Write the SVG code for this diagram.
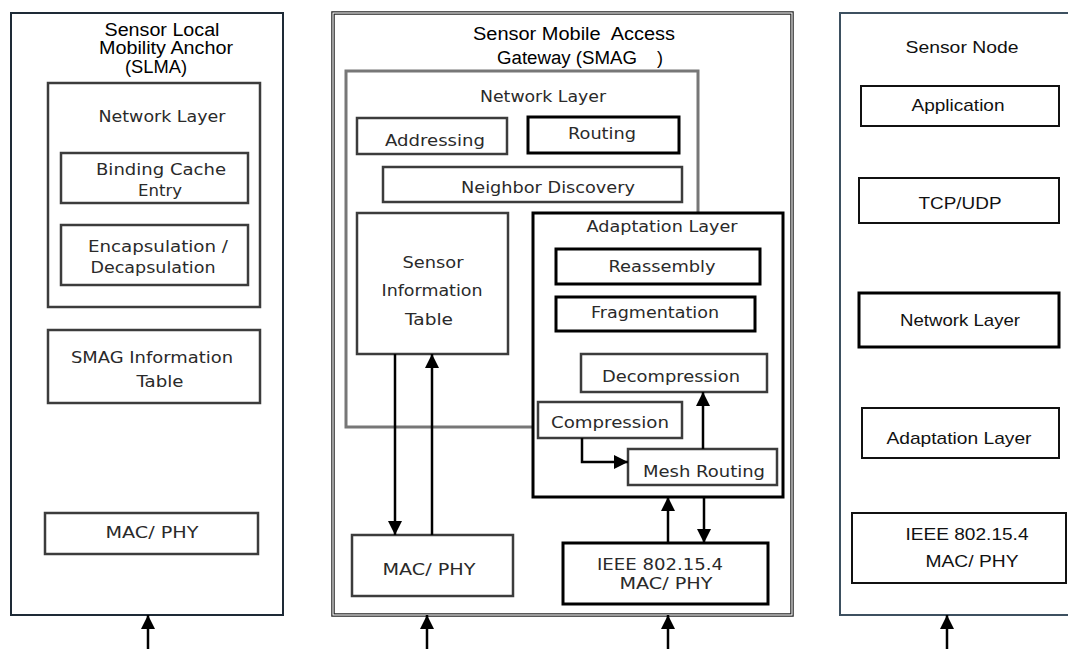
<svg xmlns="http://www.w3.org/2000/svg" width="1068" height="649" viewBox="0 0 1068 649">
<defs>
<style>
.title{font-family:"Liberation Sans",Arial,sans-serif;font-size:18px;fill:#000;text-anchor:middle}
.gt{font-family:"DejaVu Sans","Liberation Sans",sans-serif;font-size:16px;fill:#2a2a2a;text-anchor:middle}
.sn{font-family:"Liberation Sans",Arial,sans-serif;font-size:17px;fill:#111;text-anchor:middle}
.thin{fill:#fff;stroke:#3c3c3c;stroke-width:2.5}
.thick{fill:#fff;stroke:#000;stroke-width:3}
.snb{fill:#fff;stroke:#111;stroke-width:2}
.ln{fill:none;stroke:#000;stroke-width:2.5}
</style>
<marker id="ah" viewBox="0 0 14 14" refX="14" refY="7" markerWidth="14" markerHeight="14" markerUnits="userSpaceOnUse" orient="auto"><path d="M0,0 L14,7 L0,14 z" fill="#000"/></marker>
</defs>
<rect width="1068" height="649" fill="#fff"/>

<g id="slma">
<rect x="11" y="13" width="272" height="602" fill="#fff" stroke="#1e2a36" stroke-width="2"/>
<text class="title" x="162" y="36" textLength="115" lengthAdjust="spacingAndGlyphs">Sensor Local</text>
<text class="title" x="166" y="54" textLength="134" lengthAdjust="spacingAndGlyphs">Mobility Anchor</text>
<text class="title" x="156" y="73" textLength="62" lengthAdjust="spacingAndGlyphs">(SLMA)</text>
</g>
<g id="slma-network">
<rect class="thin" x="48" y="83" width="212" height="224"/>
<text class="gt" x="162" y="122" textLength="127" lengthAdjust="spacingAndGlyphs">Network Layer</text>
</g>
<g id="slma-binding">
<rect class="thin" x="61" y="153" width="187" height="50"/>
<text class="gt" x="161" y="175" textLength="130" lengthAdjust="spacingAndGlyphs">Binding Cache</text>
<text class="gt" x="160" y="196" textLength="44" lengthAdjust="spacingAndGlyphs">Entry</text>
</g>
<g id="slma-encap">
<rect class="thin" x="61" y="225" width="187" height="60"/>
<text class="gt" x="158" y="252" textLength="140" lengthAdjust="spacingAndGlyphs">Encapsulation /</text>
<text class="gt" x="153" y="273" textLength="125" lengthAdjust="spacingAndGlyphs">Decapsulation</text>
</g>
<g id="slma-smaginfo">
<rect class="thin" x="48" y="330" width="212" height="73"/>
<text class="gt" x="152" y="363" textLength="162" lengthAdjust="spacingAndGlyphs">SMAG Information</text>
<text class="gt" x="160" y="387" textLength="47" lengthAdjust="spacingAndGlyphs">Table</text>
</g>
<g id="slma-macphy">
<rect class="thin" x="45" y="513" width="213" height="41"/>
<text class="gt" x="152" y="538" textLength="93" lengthAdjust="spacingAndGlyphs">MAC/ PHY</text>
</g>

<g id="smag">
<rect x="333" y="13" width="459" height="602" fill="#fff" stroke="#222" stroke-width="3.5"/>
<rect x="333" y="13" width="459" height="602" fill="none" stroke="#fff" stroke-width="1.1"/>
<text class="title" x="574" y="40" textLength="202" lengthAdjust="spacingAndGlyphs" xml:space="preserve">Sensor Mobile  Access</text>
<text class="title" x="497" y="64" textLength="140" lengthAdjust="spacingAndGlyphs" style="text-anchor:start">Gateway (SMAG</text>
<text class="title" x="660" y="64">)</text>
</g>
<g id="smag-network">
<rect x="346" y="71" width="352" height="356" fill="none" stroke="#777" stroke-width="3"/>
<text class="gt" x="543" y="102" textLength="126" lengthAdjust="spacingAndGlyphs">Network Layer</text>
</g>
<g id="smag-addressing">
<rect class="thin" x="357" y="118" width="150" height="36"/>
<text class="gt" x="435" y="146" textLength="100" lengthAdjust="spacingAndGlyphs">Addressing</text>
</g>
<g id="smag-routing">
<rect class="thick" x="528" y="117" width="151" height="36"/>
<text class="gt" x="602" y="139" textLength="68" lengthAdjust="spacingAndGlyphs">Routing</text>
</g>
<g id="smag-nd">
<rect class="thin" x="383" y="167" width="299" height="35"/>
<text class="gt" x="548" y="193" textLength="174" lengthAdjust="spacingAndGlyphs">Neighbor Discovery</text>
</g>
<g id="smag-sit">
<rect class="thin" x="357" y="213" width="151" height="141"/>
<text class="gt" x="433" y="268" textLength="61" lengthAdjust="spacingAndGlyphs">Sensor</text>
<text class="gt" x="432" y="296" textLength="101" lengthAdjust="spacingAndGlyphs">Information</text>
<text class="gt" x="429" y="325" textLength="48" lengthAdjust="spacingAndGlyphs">Table</text>
</g>
<g id="smag-adaptation">
<rect class="thick" x="533" y="213" width="250" height="284"/>
<text class="gt" x="662" y="232" textLength="151" lengthAdjust="spacingAndGlyphs">Adaptation Layer</text>
</g>
<g id="smag-reassembly">
<rect class="thick" x="556" y="249" width="204" height="35"/>
<text class="gt" x="662" y="272" textLength="107" lengthAdjust="spacingAndGlyphs">Reassembly</text>
</g>
<g id="smag-fragmentation">
<rect class="thick" x="556" y="297" width="199" height="34"/>
<text class="gt" x="655" y="318" textLength="128" lengthAdjust="spacingAndGlyphs">Fragmentation</text>
</g>
<g id="smag-decompression">
<rect class="thin" x="581" y="354" width="186" height="38"/>
<text class="gt" x="671" y="382" textLength="138" lengthAdjust="spacingAndGlyphs">Decompression</text>
</g>
<g id="smag-compression">
<rect class="thin" x="538" y="402" width="144" height="36"/>
<text class="gt" x="610" y="428" textLength="118" lengthAdjust="spacingAndGlyphs">Compression</text>
</g>
<g id="smag-mesh">
<rect class="thin" x="628" y="449" width="149" height="36"/>
<text class="gt" x="704" y="477" textLength="122" lengthAdjust="spacingAndGlyphs">Mesh Routing</text>
</g>
<g id="smag-macphy">
<rect class="thin" x="352" y="535" width="161" height="61"/>
<text class="gt" x="429" y="575" textLength="93" lengthAdjust="spacingAndGlyphs">MAC/ PHY</text>
</g>
<g id="smag-ieee">
<rect class="thick" x="563" y="543" width="205" height="61"/>
<text class="gt" x="660" y="570" textLength="126" lengthAdjust="spacingAndGlyphs">IEEE 802.15.4</text>
<text class="gt" x="666" y="589" textLength="93" lengthAdjust="spacingAndGlyphs">MAC/ PHY</text>
</g>

<g id="sensor-node">
<path d="M1068,13 L840,13 L840,615 L1068,615" fill="#fff" stroke="#3d5060" stroke-width="2"/>
<text class="sn" x="962" y="53" textLength="113" lengthAdjust="spacingAndGlyphs">Sensor Node</text>
</g>
<g id="sn-application">
<rect class="snb" x="861" y="86" width="198" height="40"/>
<text class="sn" x="958" y="111" textLength="93" lengthAdjust="spacingAndGlyphs">Application</text>
</g>
<g id="sn-tcpudp">
<rect class="snb" x="859" y="178" width="200" height="45"/>
<text class="sn" x="960" y="209" textLength="83" lengthAdjust="spacingAndGlyphs">TCP/UDP</text>
</g>
<g id="sn-network">
<rect class="thick" x="859" y="293" width="200" height="54"/>
<text class="sn" x="960" y="326" textLength="120" lengthAdjust="spacingAndGlyphs">Network Layer</text>
</g>
<g id="sn-adaptation">
<rect class="snb" x="862" y="408" width="197" height="50"/>
<text class="sn" x="959" y="444" textLength="145" lengthAdjust="spacingAndGlyphs">Adaptation Layer</text>
</g>
<g id="sn-ieee">
<rect class="snb" x="852" y="513" width="214" height="70" stroke="#333"/>
<text class="sn" x="967" y="540" textLength="123" lengthAdjust="spacingAndGlyphs">IEEE 802.15.4</text>
<text class="sn" x="972" y="567" textLength="93" lengthAdjust="spacingAndGlyphs">MAC/ PHY</text>
</g>

<g id="connectors">
<line class="ln" x1="395" y1="354" x2="395" y2="535" marker-end="url(#ah)"/>
<line class="ln" x1="432" y1="535" x2="432" y2="354" marker-end="url(#ah)"/>
<polyline class="ln" points="582,438 582,462 628,462" marker-end="url(#ah)"/>
<line class="ln" x1="703" y1="449" x2="703" y2="392" marker-end="url(#ah)"/>
<line class="ln" x1="668" y1="543" x2="668" y2="497" marker-end="url(#ah)"/>
<line class="ln" x1="704" y1="497" x2="704" y2="543" marker-end="url(#ah)"/>
<line class="ln" x1="148" y1="649" x2="148" y2="615" marker-end="url(#ah)"/>
<line class="ln" x1="427" y1="649" x2="427" y2="615" marker-end="url(#ah)"/>
<line class="ln" x1="668" y1="649" x2="668" y2="615" marker-end="url(#ah)"/>
<line class="ln" x1="947" y1="649" x2="947" y2="615" marker-end="url(#ah)"/>
</g>
</svg>
